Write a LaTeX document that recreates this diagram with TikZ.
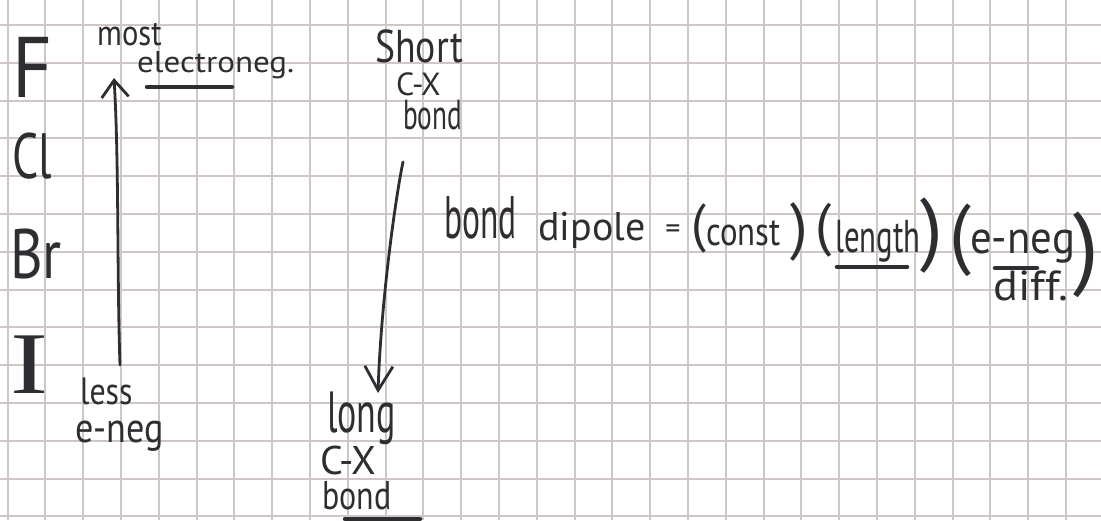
\documentclass[tikz,border=0pt]{standalone}
\usepackage{fontspec}
\setmainfont{PT Sans}
\newfontfamily\serifhand{Liberation Serif}
\usetikzlibrary{arrows.meta}
\definecolor{ink}{RGB}{45,45,50}
\definecolor{gridc}{RGB}{206,199,197}
\newcommand{\hwx}[2]{\scalebox{#1}[1]{#2}}
\begin{document}
\begin{tikzpicture}[x=1pt,y=-1pt,
  hw/.style={text=ink, inner sep=0pt, anchor=base west, font=\fontsize{#1}{#1}\selectfont},
  paren/.style={text=ink, inner sep=0pt, anchor=center, font=\fontsize{#1}{#1}\selectfont},
  pen/.style={draw=ink, line width=2.8pt, line cap=round, line join=round},
  uline/.style={draw=ink, line width=4.5pt, line cap=round},
  gridline/.style={draw=gridc, line width=2pt}]
\fill[white] (0,0) rectangle (1101,520);
\useasboundingbox (0,0) rectangle (1101,520);
\foreach \k in {0,...,28} \draw[gridline] ({7.5+37.8*\k},0) -- ({7.5+37.8*\k},520);
\foreach \k in {0,...,13} \draw[gridline] (0,{25+37.8*\k}) -- (1101,{25+37.8*\k});

% halogens
\node[hw=86] (F) at (12,97) {\hwx{0.9}{F}};
\node[hw=64] (Cl) at (12,178) {\hwx{0.72}{Cl}};
\node[hw=70] (Br) at (10,278) {\hwx{0.8}{Br}};
\node[hw=88] (I) at (10,393) {\serifhand\hwx{1.3}{I}};

% left labels
\node[hw=36] (most) at (97,45) {\hwx{0.85}{most}};
\node[hw=30] (eln) at (137,72) {\hwx{1.1}{electroneg.}};
\draw[uline] (147,87) -- (232,87);
\node[hw=38] (less) at (80,404) {\hwx{0.84}{less}};
\node[hw=42] (eneg) at (75,442) {\hwx{0.86}{e-neg}};

% left arrow
\coordinate (lbot) at (120,365);
\coordinate (ltop) at (114,78);
\draw[pen, -{Straight Barb[length=17pt,width=27pt,line width=2.8pt]}] (lbot) .. controls (117,280) and (119,160) .. (ltop);

% right column
\node[hw=46] (short) at (375,62) {\hwx{0.82}{Short}};
\node[hw=32] (cx1) at (396,95) {C-X};
\node[hw=42] (bond1) at (403,129) {\hwx{0.65}{bond}};
\coordinate (rtop) at (403,162);
\coordinate (rbot) at (378,393);
\draw[pen, -{Straight Barb[length=24pt,width=28pt,line width=2.8pt]}] (rtop) .. controls (396,195) and (381,300) .. (rbot);
\node[hw=58] (long) at (327,432) {\hwx{0.62}{long}};
\node[hw=40] (cx2) at (320,474) {C-X};
\node[hw=40] (bond2) at (322,509) {\hwx{0.8}{bond}};
\draw[uline] (345,519) -- (420,519);

% equation
\node[hw=60] (eqbond) at (444,238) {\hwx{0.56}{bond}};
\node[hw=40] (dipole) at (538,240) {dipole};
\node[paren=30] (eq) at (673,232) {=};
\node[paren=53] (p1) at (699,228) {(};
\node[hw=40] (const) at (706,245) {\hwx{0.82}{const}};
\node[paren=63] (p2) at (799,232) {)};
\node[paren=58] (p3) at (824,230) {(};
\node[hw=46] (length) at (835,252) {\hwx{0.67}{length}};
\draw[uline] (837,267) -- (907,267);
\node[paren=81] (p4) at (932,236) {)};
\node[paren=78] (p5) at (960,240) {(};
\node[hw=46] (eneg2) at (970,253) {\hwx{0.93}{e-neg}};
\draw[uline] (995,268) -- (1037,268);
\node[hw=42] (diff) at (993,300) {\hwx{1.1}{diff.}};
\node[paren=92] (p6) at (1086,255) {)};
\end{tikzpicture}
\end{document}
